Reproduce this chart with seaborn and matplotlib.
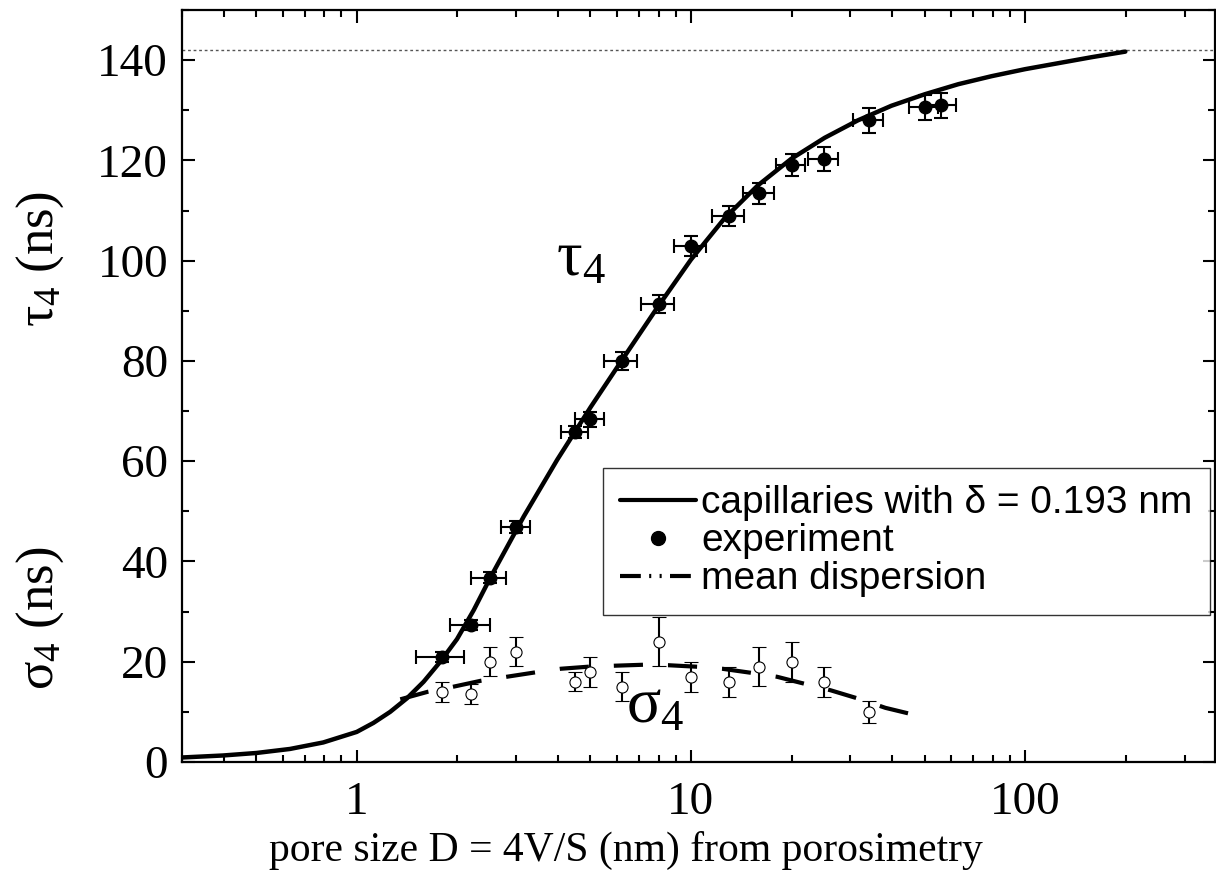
import numpy as np
import seaborn as sns
import matplotlib.pyplot as plt
from matplotlib.lines import Line2D
from matplotlib.ticker import MultipleLocator, LogLocator, FixedFormatter, FixedLocator, NullFormatter

# theory curve: capillaries with delta = 0.193 nm
theory_d = [0.3, 0.398, 0.501, 0.631, 0.794, 1.0, 1.122, 1.259, 1.413, 1.585, 1.778, 1.995,
            2.239, 2.512, 3.162, 3.981, 5.012, 6.31, 7.943, 10, 12.59, 15.85, 19.95, 25.12,
            31.62, 39.81, 50.12, 63.1, 79.4, 100, 125.9, 158.5, 199.5]
theory_tau = [0.9, 1.3, 1.8, 2.6, 3.9, 6.0, 7.8, 10.0, 12.7, 16.0, 20.0, 24.5,
              30.3, 36.8, 49.0, 60.3, 70.8, 80.8, 90.7, 100.2, 108.4, 115.0, 120.3, 124.5,
              128.0, 130.9, 133.2, 135.2, 136.8, 138.2, 139.4, 140.6, 141.7]
tau_limit = 142

# experiment: tau_4
exp_d = [1.8, 2.2, 2.5, 3.0, 4.5, 5.0, 6.2, 8.0, 10, 13, 16, 20, 25, 34, 50, 56]
exp_d_err = [0.3, 0.3, 0.3, 0.3, 0.42, 0.5, 0.7, 0.9, 1.1, 1.4, 1.7, 2.0, 2.6, 3.5, 5.0, 6.0]
exp_tau = [21.0, 27.4, 36.8, 46.8, 65.8, 68.4, 80.0, 91.4, 103.0, 109.0, 113.4, 119.0, 120.2, 128.0, 130.6, 131.0]
exp_tau_err = [1.0, 1.0, 1.0, 1.2, 1.2, 1.5, 1.8, 1.8, 2.0, 2.0, 2.0, 2.2, 2.4, 2.5, 2.5, 2.5]

# experiment: sigma_4
sig_d = [1.8, 2.2, 2.5, 3.0, 4.5, 5.0, 6.2, 8.0, 10, 13, 16, 20, 25, 34]
sig_val = [14.0, 13.6, 20.0, 22.0, 16.0, 18.0, 15.0, 24.0, 17.0, 16.0, 19.0, 20.0, 16.0, 10.0]
sig_err = [2.0, 2.0, 2.9, 2.9, 1.9, 3.0, 2.9, 4.9, 3.0, 3.0, 3.9, 4.0, 3.0, 2.2]

# mean dispersion
disp_d = [1.35, 1.63, 1.94, 2.35, 2.81, 3.44, 4.08, 4.91, 5.88, 7.22, 8.59, 10.45,
          12.4, 15.1, 18.1, 21.3, 26.2, 32.2, 38.2, 46.0]
disp_sig = [12.5, 14.0, 15.0, 16.2, 17.0, 17.9, 18.6, 19.0, 19.2, 19.4, 19.3, 19.0,
            18.6, 17.8, 17.0, 15.8, 14.3, 12.5, 10.8, 9.5]

sns.set_theme(style='ticks')
plt.rcParams['font.family'] = ['Liberation Serif', 'DejaVu Serif']
plt.rcParams['text.color'] = 'black'
plt.rcParams['mathtext.fontset'] = 'custom'
plt.rcParams['mathtext.rm'] = 'Liberation Serif'
plt.rcParams['mathtext.it'] = 'Liberation Serif'

fig = plt.figure(figsize=(12.16, 8.82), dpi=100)
ax = fig.add_axes([182 / 1216, 1 - 762 / 882, (1215 - 182) / 1216, (762 - 10) / 882])
ax.set_xscale('log')

# reference level
ax.axhline(tau_limit, color='#555555', lw=1, ls=(0, (2, 2)), zorder=1)

# curves
sns.lineplot(x=theory_d, y=theory_tau, ax=ax, color='black', lw=3.2, sort=False, estimator=None)
sns.lineplot(x=disp_d, y=disp_sig, ax=ax, color='black', lw=3, sort=False, estimator=None)
ax.lines[-1].set_dashes((7, 6))

# data with error bars
ax.errorbar(exp_d, exp_tau, xerr=exp_d_err, yerr=exp_tau_err, fmt='o', color='black',
            ms=9, elinewidth=1.5, capsize=5, capthick=1.5, zorder=4)
ax.errorbar(sig_d, sig_val, yerr=sig_err, fmt='o', color='black', mfc='white', mec='black',
            ms=8, mew=0.8, elinewidth=1.5, capsize=5, capthick=1.5, zorder=4)

ax.set_xlim(0.3, 370)
ax.set_ylim(0, 150)

# ticks
ax.xaxis.set_major_locator(FixedLocator([1, 10, 100]))
ax.xaxis.set_major_formatter(FixedFormatter(['1', '10', '100']))
ax.xaxis.set_minor_locator(LogLocator(base=10, subs=np.arange(2, 10)))
ax.xaxis.set_minor_formatter(NullFormatter())
ax.yaxis.set_major_locator(MultipleLocator(20))
ax.yaxis.set_minor_locator(MultipleLocator(10))
ax.tick_params(which='both', direction='in', top=True, right=True, width=1.5, colors='black')
ax.tick_params(which='major', length=9, labelsize=34)
ax.tick_params(which='minor', length=5)
ax.tick_params(axis='y', pad=10)
ax.tick_params(axis='x', pad=14)
for s in ax.spines.values():
    s.set_linewidth(1.6)
    s.set_color('black')
ax.set_xlabel('')
ax.set_ylabel('')

# labels
fig.text(626 / 1216, 1 - 850 / 882, 'pore size D = 4V/S (nm) from porosimetry',
         fontsize=30, ha='center', va='center')
fig.text(40 / 1216, 1 - 259 / 882, r'$\mathrm{\tau_4}$ (ns)', fontsize=38,
         rotation=90, ha='center', va='center')
fig.text(40 / 1216, 1 - 618 / 882, r'$\mathrm{\sigma_4}$ (ns)', fontsize=38,
         rotation=90, ha='center', va='center')

# curve names
ax.text(4.7, 100, r'$\mathrm{\tau_4}$', fontsize=46, ha='center', va='center')
ax.text(7.8, 11, r'$\mathrm{\sigma_4}$', fontsize=46, ha='center', va='center')

# legend
handles = [Line2D([], [], color='black', lw=3),
           Line2D([], [], color='black', marker='o', ls='none', ms=10),
           Line2D([], [], color='black', lw=3, dashes=(5, 2, 0.5, 2, 0.5, 2))]
labels = ['capillaries with \u03b4 = 0.193 nm', 'experiment', 'mean dispersion']
leg = ax.legend(handles, labels, loc='upper right', bbox_to_anchor=(0.995, 0.391),
                prop={'family': 'Liberation Sans', 'size': 28}, frameon=True, fancybox=False,
                edgecolor='black', handlelength=1.95, handletextpad=0.12, labelspacing=0.05,
                borderpad=0.45, borderaxespad=0)
leg.get_frame().set_linewidth(1)

fig.savefig('out.png', dpi=100)
